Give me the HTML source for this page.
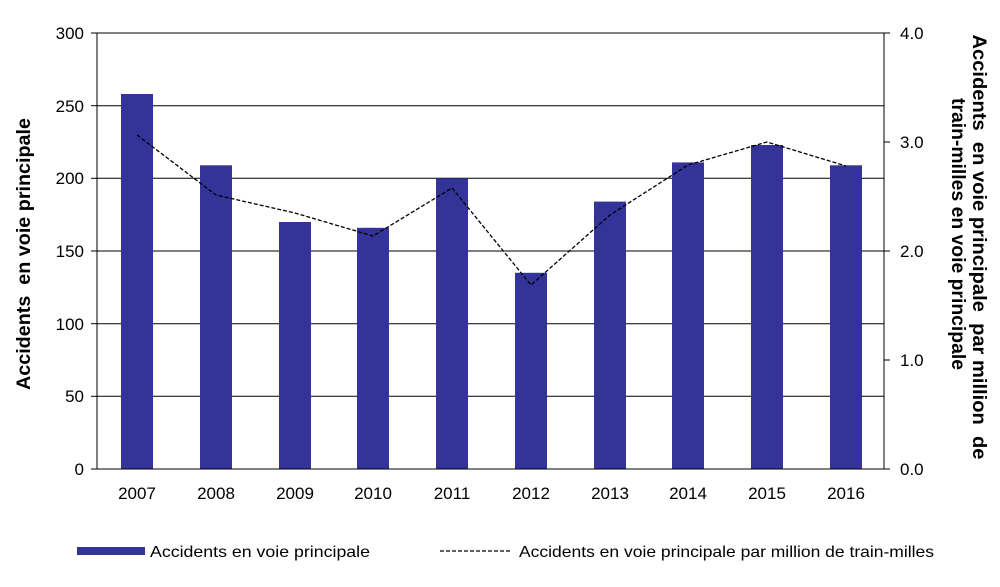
<!DOCTYPE html>
<html><head><meta charset="utf-8"><style>
body{margin:0;background:#fff;}
svg{display:block;font-family:"Liberation Sans",Arial,sans-serif;}
text{white-space:pre;}
</style></head><body>
<svg width="1000" height="587" viewBox="0 0 1000 587">
<g stroke="#000" stroke-width="1">
<line x1="97" y1="396.3" x2="884" y2="396.3"/>
<line x1="97" y1="323.7" x2="884" y2="323.7"/>
<line x1="97" y1="251" x2="884" y2="251"/>
<line x1="97" y1="178.3" x2="884" y2="178.3"/>
<line x1="97" y1="105.7" x2="884" y2="105.7"/>
<line x1="97" y1="33" x2="884" y2="33"/>
</g>
<g fill="#333399">
<rect x="121" y="94" width="32" height="375"/>
<rect x="200" y="165.3" width="32" height="303.7"/>
<rect x="279" y="222" width="32" height="247"/>
<rect x="357" y="227.8" width="32" height="241.2"/>
<rect x="436" y="178.3" width="32" height="290.7"/>
<rect x="515" y="272.8" width="32" height="196.2"/>
<rect x="594" y="201.6" width="32" height="267.4"/>
<rect x="672" y="162.4" width="32" height="306.6"/>
<rect x="751" y="145" width="32" height="324"/>
<rect x="830" y="165.3" width="32" height="303.7"/>
</g>
<polyline fill="none" stroke="#000" stroke-width="1.3" stroke-dasharray="4,2" points="137,135 216,195 295,213 373,236 452,188 531,285 610,215 688,165 767,142 846,166"/>
<g stroke="#000" stroke-width="1" fill="none">
<line x1="97" y1="33" x2="97" y2="469"/>
<line x1="884" y1="33" x2="884" y2="469"/>
<line x1="97" y1="469" x2="884" y2="469"/>
<line x1="91" y1="33" x2="97" y2="33"/><line x1="91" y1="105.7" x2="97" y2="105.7"/><line x1="91" y1="178.3" x2="97" y2="178.3"/><line x1="91" y1="251" x2="97" y2="251"/><line x1="91" y1="323.7" x2="97" y2="323.7"/><line x1="91" y1="396.3" x2="97" y2="396.3"/><line x1="91" y1="469" x2="97" y2="469"/>
<line x1="884" y1="33" x2="890" y2="33"/><line x1="884" y1="142" x2="890" y2="142"/><line x1="884" y1="251" x2="890" y2="251"/><line x1="884" y1="360" x2="890" y2="360"/><line x1="884" y1="469" x2="890" y2="469"/>
</g>
<g font-size="17" fill="#000" text-anchor="end">
<text x="84" y="39">300</text><text x="84" y="112">250</text><text x="84" y="184">200</text><text x="84" y="257">150</text><text x="84" y="330">100</text><text x="84" y="402">50</text><text x="84" y="475">0</text>
</g>
<g font-size="17" fill="#000" text-anchor="start">
<text x="900" y="39">4.0</text><text x="900" y="148">3.0</text><text x="900" y="257">2.0</text><text x="900" y="366">1.0</text><text x="900" y="475">0.0</text>
</g>
<g font-size="17" fill="#000" text-anchor="middle">
<text x="137" y="499">2007</text><text x="216" y="499">2008</text><text x="295" y="499">2009</text><text x="373" y="499">2010</text><text x="452" y="499">2011</text><text x="531" y="499">2012</text><text x="610" y="499">2013</text><text x="688" y="499">2014</text><text x="767" y="499">2015</text><text x="846" y="499">2016</text>
</g>
<text transform="translate(30,254) rotate(-90)" font-size="19" font-weight="bold" text-anchor="middle" textLength="272" lengthAdjust="spacingAndGlyphs">Accidents  en voie principale</text>
<text transform="translate(973,247) rotate(90)" font-size="19" font-weight="bold" text-anchor="middle" textLength="425" lengthAdjust="spacingAndGlyphs">Accidents  en voie principale  par million  de</text>
<text transform="translate(952,234) rotate(90)" font-size="19" font-weight="bold" text-anchor="middle" textLength="272" lengthAdjust="spacingAndGlyphs">train-milles en voie principale</text>
<rect x="77" y="547" width="68" height="8" fill="#333399"/>
<text x="150" y="557" font-size="16" textLength="220" lengthAdjust="spacingAndGlyphs">Accidents en voie principale</text>
<line x1="440" y1="551" x2="510" y2="551" stroke="#000" stroke-width="1.3" stroke-dasharray="4,2"/>
<text x="519" y="557" font-size="16" textLength="415" lengthAdjust="spacingAndGlyphs">Accidents en voie principale par million de train-milles</text>
</svg>
</body></html>
